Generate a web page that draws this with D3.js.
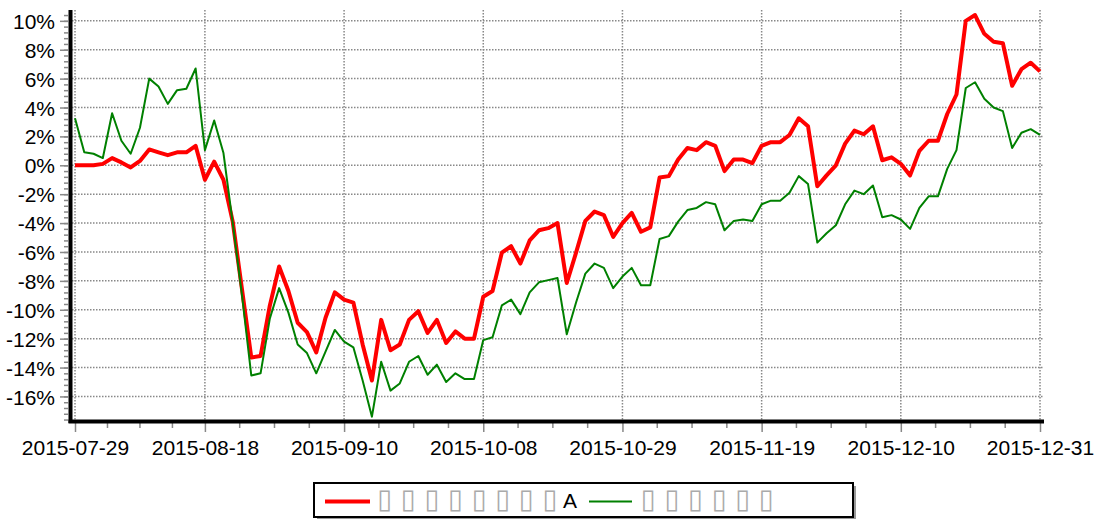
<!DOCTYPE html>
<html>
<head>
<meta charset="utf-8">
<script src="https://cdn.jsdelivr.net/npm/d3@7"></script>
<style>
  body { margin: 0; background: #fff; }
  svg { display: block; }
  text { font-family: "Liberation Sans", Arial, sans-serif; }
</style>
</head>
<body>
<div id="plot"></div>
<script>
// trading days
const dates = [
  "2015-07-29","2015-07-30","2015-07-31",
  "2015-08-03","2015-08-04","2015-08-05","2015-08-06","2015-08-07","2015-08-10","2015-08-11",
  "2015-08-12","2015-08-13","2015-08-14","2015-08-17","2015-08-18","2015-08-19","2015-08-20",
  "2015-08-21","2015-08-24","2015-08-25","2015-08-26","2015-08-27","2015-08-28","2015-08-31",
  "2015-09-01","2015-09-02","2015-09-07","2015-09-08","2015-09-09","2015-09-10","2015-09-11",
  "2015-09-14","2015-09-15","2015-09-16","2015-09-17","2015-09-18","2015-09-21","2015-09-22",
  "2015-09-23","2015-09-24","2015-09-25","2015-09-28","2015-09-29","2015-09-30",
  "2015-10-08","2015-10-09","2015-10-12","2015-10-13","2015-10-14","2015-10-15","2015-10-16",
  "2015-10-19","2015-10-20","2015-10-21","2015-10-22","2015-10-23","2015-10-26","2015-10-27",
  "2015-10-28","2015-10-29","2015-10-30",
  "2015-11-02","2015-11-03","2015-11-04","2015-11-05","2015-11-06","2015-11-09","2015-11-10",
  "2015-11-11","2015-11-12","2015-11-13","2015-11-16","2015-11-17","2015-11-18","2015-11-19",
  "2015-11-20","2015-11-23","2015-11-24","2015-11-25","2015-11-26","2015-11-27","2015-11-30",
  "2015-12-01","2015-12-02","2015-12-03","2015-12-04","2015-12-07","2015-12-08","2015-12-09",
  "2015-12-10","2015-12-11","2015-12-14","2015-12-15","2015-12-16","2015-12-17","2015-12-18",
  "2015-12-21","2015-12-22","2015-12-23","2015-12-24","2015-12-25","2015-12-28","2015-12-29",
  "2015-12-30","2015-12-31"
];

// cumulative return, %
const strategy = [
  0, 0, 0, 0.1, 0.5, 0.2, -0.15, 0.3, 1.1, 0.9, 0.7, 0.9, 0.9, 1.35, -1.0, 0.25, -1.0,
  -3.9, -8.6, -13.3, -13.2, -9.7, -7.0, -8.7, -10.9, -11.55, -12.95, -10.55, -8.8, -9.3, -9.5,
  -12.4, -14.9, -10.7, -12.8, -12.4, -10.7,
  -10.1, -11.6, -10.7, -12.3, -11.5, -12.0, -12.0, -9.1, -8.7,
  -6.05, -5.6, -6.8, -5.2, -4.5, -4.35, -4.0, -8.15, -6.05, -3.85, -3.2, -3.45, -4.95, -4.0,
  -3.3, -4.6, -4.3,
  -0.85, -0.75, 0.4, 1.2, 1.05, 1.6, 1.35, -0.4, 0.4, 0.4, 0.15,
  1.35, 1.6, 1.6, 2.1, 3.25, 2.7, -1.45, -0.7, 0.0, 1.5, 2.4, 2.15, 2.7, 0.35, 0.55, 0.1,
  -0.7, 1.0, 1.7, 1.7, 3.55, 4.9, 10.0, 10.4, 9.1, 8.55, 8.45, 5.5, 6.65, 7.1, 6.5
];

const benchmark = [
  3.25, 0.9, 0.8, 0.5, 3.6, 1.7, 0.8, 2.6, 6.0, 5.45, 4.25, 5.2, 5.3, 6.7, 1.05, 3.1, 0.85,
  -4.0, -9.0, -14.55, -14.4, -10.6, -8.5, -10.2, -12.4, -13.0, -14.4, -12.9, -11.4, -12.2, -12.6,
  -14.9, -17.4, -13.6, -15.6, -15.1, -13.6,
  -13.2, -14.5, -13.8, -15.0, -14.4, -14.8, -14.8, -12.1, -11.9,
  -9.7, -9.3, -10.3, -8.8, -8.1, -7.95, -7.8, -11.7, -9.5, -7.5, -6.8, -7.1, -8.5, -7.7,
  -7.1, -8.3, -8.3,
  -5.1, -4.9, -3.9, -3.1, -2.95, -2.55, -2.7, -4.5, -3.85, -3.75, -3.85,
  -2.7, -2.45, -2.45, -1.9, -0.75, -1.3, -5.35, -4.7, -4.15, -2.7, -1.75, -2.0, -1.4, -3.6,
  -3.45, -3.75, -4.4, -2.95, -2.15, -2.15, -0.25, 1.05, 5.35, 5.75, 4.6, 4.0, 3.75, 1.2,
  2.25, 2.5, 2.1
];

const xTicks = ["2015-07-29","2015-08-18","2015-09-10","2015-10-08","2015-10-29","2015-11-19","2015-12-10","2015-12-31"];
const yTicks = [-16, -14, -12, -10, -8, -6, -4, -2, 0, 2, 4, 6, 8, 10];
// legend labels (glyphs missing in the source render)
const labels = ["▯▯▯▯▯▯▯▯A", "▯▯▯▯▯▯"];
const colors = ["#ff0000", "#008000"];

const width = 1098, height = 519;

const svg = d3.select('#plot')
  .append('svg')
  .attr('width', width)
  .attr('height', height)
  .style('background', '#fff');

const x = d3.scalePoint().domain(dates).range([75, 1040]);
const y = d3.scaleLinear().domain([-17.7, 10.75]).range([421, 10]);

// dotted grid
const grid = svg.append('g')
  .attr('stroke', '#888')
  .attr('stroke-width', 1.5)
  .attr('stroke-dasharray', '1.5,1.5');

grid.selectAll('.gy')
  .data(yTicks)
  .join('line')
  .attr('class', 'gy')
  .attr('x1', 72).attr('x2', 1043)
  .attr('y1', d => y(d)).attr('y2', d => y(d));

grid.selectAll('.gx')
  .data(xTicks)
  .join('line')
  .attr('class', 'gx')
  .attr('x1', d => x(d)).attr('x2', d => x(d))
  .attr('y1', y.range()[1]).attr('y2', y.range()[0]);

// y axis
const yAxis = svg.append('g')
  .attr('transform', 'translate(68,0)')
  .call(d3.axisLeft(y).tickValues(yTicks).tickSize(8).tickPadding(5).tickFormat(d => d + '%'));
yAxis.select('.domain').remove();
yAxis.selectAll('line').attr('stroke', '#888').attr('stroke-width', 1.5);
yAxis.selectAll('text').attr('fill', '#000').style('font-size', '21px').attr('dy', '0.36em');

const yMinor = svg.append('g')
  .attr('transform', 'translate(68,0)')
  .call(d3.axisLeft(y).tickValues(d3.range(-17.6, 10.6, 0.4)).tickSize(4).tickFormat(''));
yMinor.select('.domain').remove();
yMinor.selectAll('line').attr('stroke', '#888').attr('stroke-width', 1.5);

// x axis
const xAxis = svg.append('g')
  .attr('transform', 'translate(0,421)')
  .call(d3.axisBottom(x).tickValues(xTicks).tickSize(11).tickPadding(8));
xAxis.select('.domain').remove();
xAxis.selectAll('line').attr('stroke', '#888').attr('stroke-width', 1.5);
xAxis.selectAll('text').attr('fill', '#000').style('font-size', '21px');

const minorX = [];
for (let k = 0; k < xTicks.length - 1; k++) {
  const a = x(xTicks[k]), b = x(xTicks[k + 1]);
  for (let j = 1; j < 4; j++) minorX.push(a + (b - a) * j / 4);
}
svg.append('g')
  .selectAll('line')
  .data(minorX)
  .join('line')
  .attr('x1', d => d).attr('x2', d => d)
  .attr('y1', 421).attr('y2', 428)
  .attr('stroke', '#888').attr('stroke-width', 1.5);

// axis lines
svg.append('line')
  .attr('x1', 70.5).attr('x2', 70.5)
  .attr('y1', y.range()[1]).attr('y2', y.range()[0] + 2)
  .attr('stroke', '#000').attr('stroke-width', 4);
svg.append('line')
  .attr('x1', 68.5).attr('x2', x.range()[1] + 4)
  .attr('y1', 421.5).attr('y2', 421.5)
  .attr('stroke', '#000').attr('stroke-width', 4);

// lines
const line = d3.line()
  .x((d, i) => x(dates[i]))
  .y(d => y(d));

svg.append('path')
  .datum(strategy)
  .attr('fill', 'none')
  .attr('stroke', colors[0])
  .attr('stroke-width', 4)
  .attr('stroke-linejoin', 'round')
  .attr('d', line);

svg.append('path')
  .datum(benchmark)
  .attr('fill', 'none')
  .attr('stroke', colors[1])
  .attr('stroke-width', 2)
  .attr('stroke-linejoin', 'round')
  .attr('d', line);

// legend
const legend = svg.append('g');
legend.append('rect')
  .attr('x', 317).attr('y', 486).attr('width', 539).attr('height', 34)
  .attr('fill', '#999');
legend.append('rect')
  .attr('x', 314).attr('y', 483).attr('width', 539).attr('height', 34)
  .attr('fill', '#fff').attr('stroke', '#000').attr('stroke-width', 2);

const items = [
  { x1: 325, x2: 370, w: 4, text: 384.7 },
  { x1: 589, x2: 632, w: 2, text: 648.3 }
];
items.forEach((it, n) => {
  legend.append('line')
    .attr('x1', it.x1).attr('x2', it.x2)
    .attr('y1', 501.5).attr('y2', 501.5)
    .attr('stroke', colors[n]).attr('stroke-width', it.w);
  const t = legend.append('text')
    .attr('y', 508)
    .attr('text-anchor', 'middle');
  Array.from(labels[n]).forEach((ch, k) => {
    const tofu = ch === '▯';
    t.append('tspan')
      .attr('x', tofu ? it.text + k * 23.6 : it.text + (k - 1) * 23.6 + 20)
      .attr('fill', tofu ? '#aaa' : '#000')
      .style('font-family', tofu ? '"DejaVu Sans"' : '"Liberation Sans", Arial, sans-serif')
      .style('font-size', tofu ? '27px' : '21px')
      .text(ch);
  });
});
</script>
</body>
</html>
